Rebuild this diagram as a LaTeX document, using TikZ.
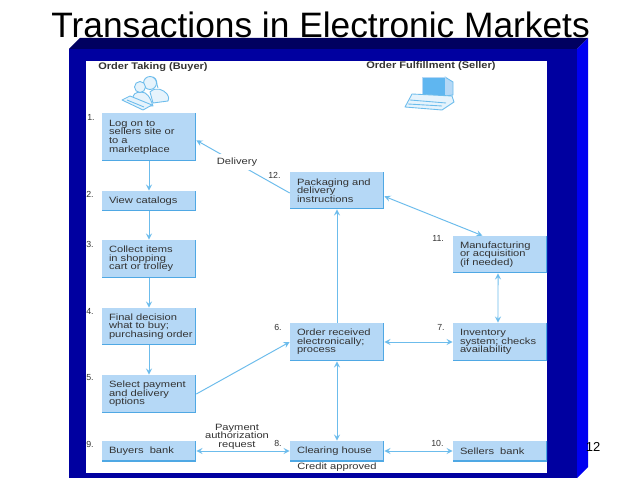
\documentclass[tikz,border=0pt]{standalone}
\usepackage{fontspec}
\setmainfont{Liberation Sans}
\newfontfamily\boxfont[FakeStretch=1.22]{Liberation Sans}
\newfontfamily\headfont[FakeStretch=1.15]{Liberation Sans}
\definecolor{frontblue}{HTML}{0000A0}
\definecolor{topblue}{HTML}{000060}
\definecolor{sideblue}{HTML}{0000F0}
\definecolor{boxfill}{HTML}{B5D8F6}
\definecolor{boxedge}{HTML}{4FA8E4}
\definecolor{linkblue}{HTML}{6CBCEC}
\definecolor{inkgrey}{HTML}{333333}
\definecolor{iconfill}{HTML}{E6F3FC}
\definecolor{screenblue}{HTML}{5FB6F0}
\tikzset{
  stepbox/.style={fill=boxfill,minimum width=1.88cm,inner xsep=0.14cm,inner ysep=0pt,
    text width=1.6cm,align=left,text=inkgrey,
    font=\boxfont\fontsize{5.2}{4.9}\selectfont,
    execute at begin node={\lineskiplimit=-5pt\relax},
    path picture={\draw[boxedge,line width=1pt]
      (path picture bounding box.north east) -- (path picture bounding box.south east)
      -- (path picture bounding box.south west);}},
  numlabel/.style={text=inkgrey,inner sep=0pt,font=\fontsize{5}{5}\selectfont},
  plainlabel/.style={text=inkgrey,inner sep=0pt,align=center,
    font=\boxfont\fontsize{5.2}{4.9}\selectfont,
    execute at begin node={\lineskiplimit=-5pt\relax}},
  headlabel/.style={text=inkgrey,inner sep=0pt,font=\headfont\bfseries\fontsize{5.45}{6}\selectfont},
  link/.style={linkblue,line width=0.55pt},
  iconline/.style={linkblue,line width=0.5pt,line join=round}
}
\begin{document}
\begin{tikzpicture}[>=stealth,x=0.02cm,y=-0.02cm]
\useasboundingbox (0,0) rectangle (638,479);
\node[inner sep=0pt,anchor=base west,font=\fontsize{20.1}{22}\selectfont] (title) at (51,38) {Transactions in Electronic Markets};
\fill[topblue] (69,49) -- (80,38) -- (588,38) -- (577,49) -- cycle;
\fill[sideblue] (577,49) -- (588,38) -- (588,467) -- (577,478) -- cycle;
\fill[frontblue] (69,49) rectangle (577,478);
\fill[white] (86,61) rectangle (547,473);
\node[inner sep=0pt,font=\fontsize{7.4}{8}\selectfont] (pagenum) at (593,447) {12};

\node[headlabel,anchor=west] (buyer) at (98,67.5) {Order Taking (Buyer)};
\node[headlabel,anchor=west] (seller) at (366,66) {Order Fulfillment (Seller)};

\filldraw[iconline,fill=iconfill] (150,92) .. controls (156,86) and (164,90) .. (167,94) .. controls (169,97) and (169,99) .. (168,101) -- (153,103) -- cycle;
\filldraw[iconline,fill=iconfill] (150,83) circle (6.5);
\draw[iconline] (153,77) .. controls (158,79) and (156,84) .. (158,88);
\filldraw[iconline,fill=iconfill] (133,100) .. controls (132,94) and (136,92) .. (141,92) .. controls (147,92) and (150,97) .. (153,106) -- (140,106) -- cycle;
\filldraw[iconline,fill=iconfill] (140,87) circle (5.5);
\filldraw[iconline,fill=iconfill] (122,100) -- (130,96) -- (152,105) -- (143,110) -- cycle;
\draw[iconline] (127,100) -- (144,107);

\filldraw[iconline,fill=boxfill] (445,77) -- (453,82) -- (453,95) -- (445,96) -- cycle;
\filldraw[iconline,fill=screenblue,draw=boxfill] (422,77) rectangle (445,95);
\filldraw[iconline,fill=iconfill] (412,94) -- (452,96) -- (454,102) -- (442,110) -- (405,107) -- cycle;
\draw[iconline] (410,100) -- (446,103);
\draw[iconline] (408,104) -- (442,106);

\node[stepbox,minimum height=0.96cm] (logon) at (149,137) {Log on to\\sellers site or\\to a\\marketplace};
\node[stepbox,minimum height=0.40cm] (catalog) at (149,201) {View catalogs};
\node[stepbox,minimum height=0.76cm] (collect) at (149,259) {Collect items\\in shopping\\cart or trolley};
\node[stepbox,minimum height=0.74cm] (decide) at (149,326.5) {Final decision\\what to buy;\\\mbox{purchasing order}};
\node[stepbox,minimum height=0.76cm] (payment) at (149,394) {Select payment\\and delivery\\options};
\node[stepbox,minimum height=0.40cm] (buyerbank) at (149,451) {Buyers\ \ bank};
\node[stepbox,minimum height=0.74cm] (packing) at (337,190.5) {Packaging and\\delivery\\instructions};
\node[stepbox,minimum height=0.76cm] (order) at (337,342) {Order received\\electronically;\\process};
\node[stepbox,minimum height=0.40cm] (clearing) at (337,451) {Clearing house};
\node[stepbox,minimum height=0.74cm] (manufacture) at (500,254.5) {Manufacturing\\or acquisition\\(if needed)};
\node[stepbox,minimum height=0.76cm] (inventory) at (500,342) {Inventory\\system; checks\\availability};
\node[stepbox,minimum height=0.40cm] (sellerbank) at (500,451) {Sellers\ \ bank};

\draw[link,->] (logon) -- (catalog);
\draw[link,->] (catalog) -- (collect);
\draw[link,->] (collect) -- (decide);
\draw[link,->] (decide) -- (payment);
\draw[link,->] (payment.east) -- (order.west);
\draw[link,->] (order.north) -- (packing.south);
\draw[link,<->] (order) -- (clearing);
\draw[link,<->] (order) -- (inventory);
\draw[link,<->] (buyerbank) -- (clearing);
\draw[link,<->] (clearing) -- (sellerbank);
\draw[link,<->] (inventory.96) -- (manufacture.-96);
\draw[link,<->] (packing.-7) -- (manufacture.133);
\draw[link,->] (packing.-177) -- (logon.-4);

\node[plainlabel,fill=white,inner xsep=1pt,inner ysep=2pt] (delivery) at (237,162) {Delivery};
\node[plainlabel] (authreq) at (237,436.5) {Payment\\authorization\\request};
\node[plainlabel,anchor=west] (credit) at (297,467) {Credit approved};

\node[numlabel,anchor=west] (n1) at (87,117) {1.};
\node[numlabel,anchor=west] (n2) at (86,194) {2.};
\node[numlabel,anchor=west] (n3) at (86,244) {3.};
\node[numlabel,anchor=west] (n4) at (86,311) {4.};
\node[numlabel,anchor=west] (n5) at (86,378) {5.};
\node[numlabel,anchor=west] (n9) at (86,444) {9.};
\node[numlabel,anchor=west] (n12) at (268,175) {12.};
\node[numlabel,anchor=west] (n6) at (274,327) {6.};
\node[numlabel,anchor=west] (n8) at (274,443) {8.};
\node[numlabel,anchor=west] (n11) at (432,238) {11.};
\node[numlabel,anchor=west] (n7) at (437,327) {7.};
\node[numlabel,anchor=west] (n10) at (431,443) {10.};
\end{tikzpicture}
\end{document}
